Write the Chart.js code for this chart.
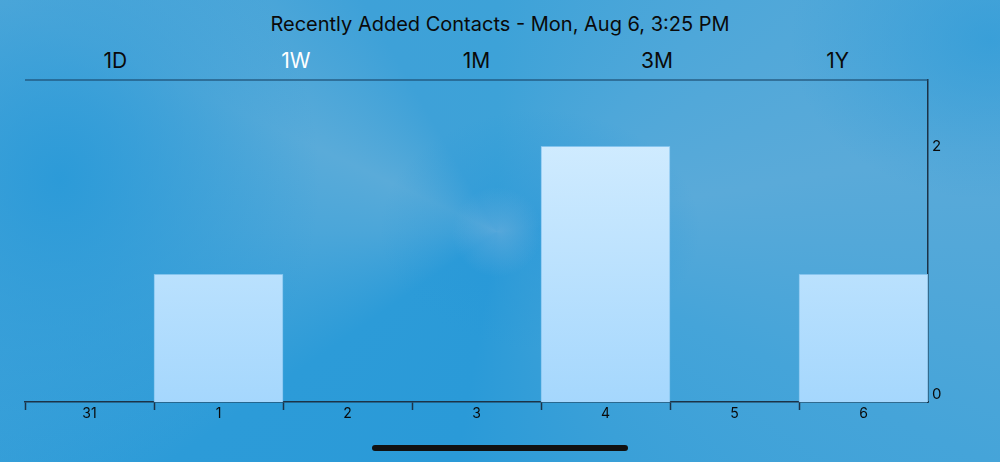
<!DOCTYPE html>
<html>
<head>
<meta charset="utf-8">
<script src="https://cdn.jsdelivr.net/npm/chart.js@4/dist/chart.umd.min.js"></script>
<style>
    html, body { margin: 0; padding: 0; }
    body {
        width: 1000px; height: 462px; overflow: hidden; position: relative;
        font-family: Inter, Roboto, "Noto Sans", sans-serif;
        background:
            radial-gradient(circle at 497px 232px, rgba(110, 175, 220, 0.55) 0, rgba(43, 155, 216, 0) 45px),
            radial-gradient(ellipse 160px 120px at 540px 230px, rgba(40, 152, 216, 0.8) 0, rgba(40, 152, 216, 0) 100%),
            radial-gradient(ellipse 260px 300px at 60px 180px, rgba(40, 153, 216, 0.9) 0, rgba(40, 153, 216, 0) 100%),
            radial-gradient(ellipse 200px 160px at 990px 40px, rgba(45, 155, 216, 0.7) 0, rgba(45, 155, 216, 0) 100%),
            conic-gradient(from 0deg at 497px 232px,
                #3da2d8 0deg, #4ea7d9 45deg, #5aaad9 80deg, #45a4d9 115deg,
                #3aa0d8 150deg, #2a9ad8 190deg, #2c9bd8 235deg, #4ba6d9 270deg,
                #5aabd9 295deg, #3ea1d8 330deg, #3da2d8 360deg);
    }
    #title {
        position: absolute; top: 12px; left: 0; width: 1000px; text-align: center;
        font-size: 20px; color: #0a0a0a;
    }
    .tab {
        position: absolute; top: 48px; width: 120px; margin-left: -60px; text-align: center;
        font-size: 21px; color: #0a0a0a;
    }
    .tab.active { color: #ffffff; }
    #home {
        position: absolute; left: 372px; top: 445px; width: 256px; height: 6px;
        border-radius: 3px; background: #111;
    }
    canvas { position: absolute; left: 0; top: 0; }
</style>
</head>
<body>
<div id="title">Recently Added Contacts - Mon, Aug 6, 3:25 PM</div>
<div id="tabs"></div>
<canvas id="chart" width="1000" height="462"></canvas>
<div id="home"></div>
<script>
// chart data
const days = ['31', '1', '2', '3', '4', '5', '6'];
const contactsAdded = [0, 1, 0, 0, 2, 0, 1];
const yTicks = [0, 2];
const ranges = ['1D', '1W', '1M', '3M', '1Y'];
const activeRange = '1W';

document.addEventListener('DOMContentLoaded', () => {
    const area = { left: 25, right: 928, top: 80, bottom: 402 };

    // range tabs spread across the plot width
    const seg = (area.right - area.left) / ranges.length;
    document.getElementById('tabs').innerHTML = ranges.map((r, i) =>
        `<div class="tab${r === activeRange ? ' active' : ''}" style="left:${area.left + seg * (i + 0.5)}px">${r}</div>`
    ).join('');

    // top border + right-hand value labels
    const framePlugin = {
        id: 'frame',
        afterDraw: chart => {
            const { ctx, chartArea } = chart;
            const y = chart.scales.y;
            ctx.save();
            ctx.strokeStyle = 'rgba(25, 70, 105, 0.75)';
            ctx.lineWidth = 1.5;
            ctx.beginPath();
            ctx.moveTo(chartArea.left, chartArea.top);
            ctx.lineTo(chartArea.right, chartArea.top);
            ctx.stroke();

            ctx.fillStyle = '#0a0a0a';
            ctx.font = '15px Inter, Roboto, sans-serif';
            ctx.textBaseline = 'middle';
            ctx.textAlign = 'left';
            yTicks.forEach(v => {
                const py = Math.min(y.getPixelForValue(v), chartArea.bottom - 8);
                ctx.fillText(String(v), chartArea.right + 4, py);
            });
            ctx.restore();
        }
    };

    const barFill = ctx => {
        const ca = ctx.chart.chartArea;
        if (!ca) return '#bfe3ff';
        const g = ctx.chart.ctx.createLinearGradient(0, ca.top, 0, ca.bottom);
        g.addColorStop(0, '#daf0ff');
        g.addColorStop(1, '#a5d7fd');
        return g;
    };

    new Chart(document.getElementById('chart'), {
        type: 'bar',
        data: {
            labels: days,
            datasets: [{
                label: 'Contacts',
                data: contactsAdded,
                backgroundColor: barFill,
                borderColor: 'rgba(140, 200, 240, 0.9)',
                borderWidth: 1,
                barPercentage: 1,
                categoryPercentage: 1
            }]
        },
        options: {
            responsive: false,
            animation: false,
            devicePixelRatio: 1,
            layout: { padding: { left: area.left, top: area.top, right: 0, bottom: 0 } },
            plugins: { legend: { display: false }, title: { display: false }, tooltip: { enabled: false } },
            scales: {
                x: {
                    offset: true,
                    afterFit: s => { s.height = 462 - area.bottom; },
                    border: { display: true, color: '#1c3347', width: 1.5 },
                    grid: {
                        offset: true,
                        drawOnChartArea: false,
                        drawTicks: true,
                        tickLength: 8,
                        tickWidth: 1.5,
                        // no tick under the right-hand axis
                        color: c => (c.type === 'tick' && c.index < days.length) ? '#1c3347' : 'rgba(0,0,0,0)'
                    },
                    ticks: {
                        color: '#0a0a0a',
                        font: { family: 'Inter, Roboto, sans-serif', size: 14 },
                        padding: -5
                    }
                },
                y: {
                    position: 'right',
                    min: 0,
                    max: 2.52,
                    afterFit: s => { s.width = 1000 - area.right; },
                    border: { display: true, color: '#1c3347', width: 1.5 },
                    grid: { display: false },
                    ticks: { display: false }
                }
            }
        },
        plugins: [framePlugin]
    });
});
</script>
</body>
</html>
